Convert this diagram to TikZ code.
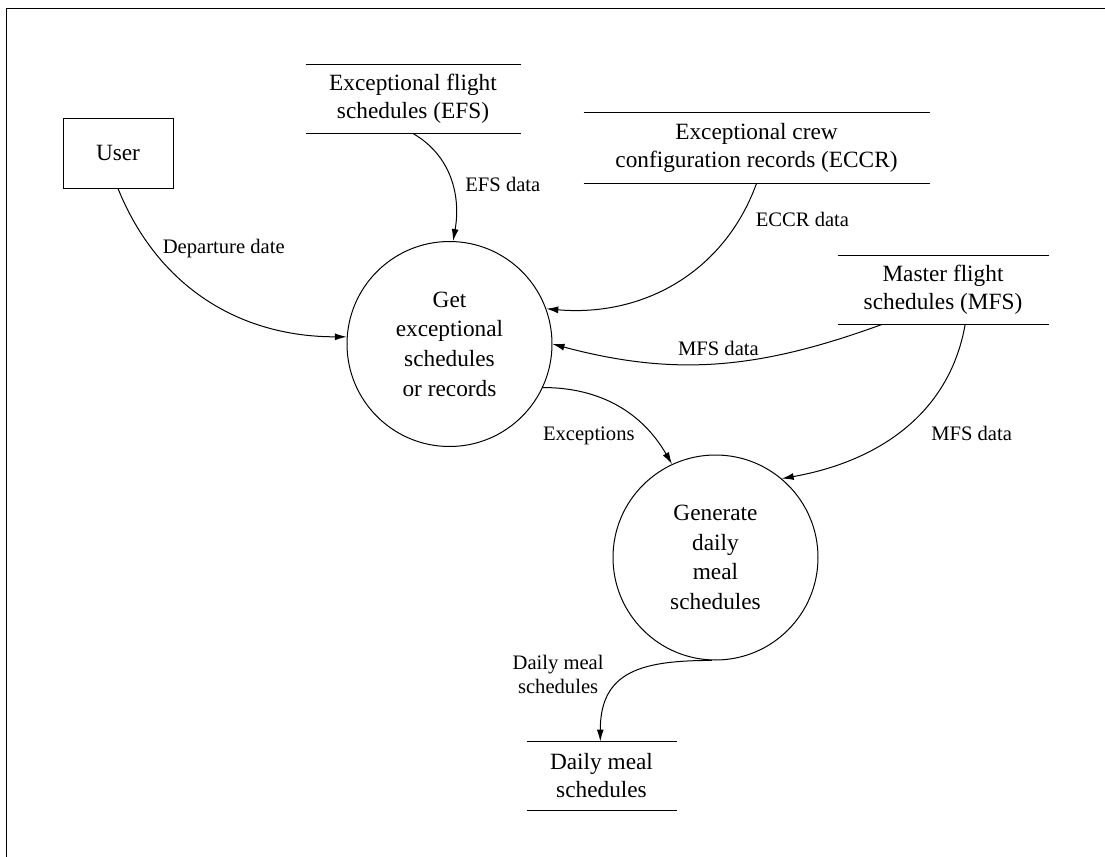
\documentclass[tikz,border=0pt]{standalone}
\usepackage{fontspec}
\setmainfont{Liberation Serif}
\usetikzlibrary{arrows.meta,calc}

\tikzset{
  process/.style={circle, draw, minimum size=102.5pt, inner sep=0pt, align=center,
    font=\fontsize{11.65}{14.8}\selectfont},
  store/.style={minimum height=34pt, inner sep=0pt, align=center,
    font=\fontsize{11.65}{14}\selectfont},
  entity/.style={draw, minimum width=55pt, minimum height=35pt,
    font=\fontsize{11.65}{14}\selectfont},
  flow/.style={-{Latex[length=6pt,width=3.5pt]}},
  lbl/.style={font=\fontsize{10.3}{12}\selectfont, align=center}
}

\begin{document}
\begin{tikzpicture}[x=0.5pt, y=-0.5pt, line width=0.5pt]
    \useasboundingbox (0,0) rectangle (1105,857);
    \draw (6,857) -- (6,8) -- (1105,8);

    \node[entity] (user) at (118,153) {User};
    \node[store, minimum width=107pt] (efs) at (413,99) {Exceptional flight\\schedules (EFS)};
    \node[store, minimum width=172.5pt, minimum height=35pt] (eccr) at (756.5,148) {Exceptional crew\\configuration records (ECCR)};
    \node[store, minimum width=105pt] (mfs) at (943,290) {Master flight\\schedules (MFS)};
    \node[store, minimum width=74.5pt] (daily) at (601.5,776) {Daily meal\\schedules};
    \node[process] (get) at (449.5,344) {Get\\exceptional\\schedules\\or records};
    \node[process] (gen) at (715.5,557.5) {Generate\\daily\\meal\\schedules};

    % data stores: line above and below
    \foreach \s in {efs,eccr,mfs,daily}
        \draw (\s.north west) -- (\s.north east) (\s.south west) -- (\s.south east);

    \draw[flow] (user.south) to[out=-68, in=180] node[lbl, pos=0.35, above right, xshift=-9.5pt, yshift=4.5pt] {Departure date} (get.176);
    \draw[flow] (efs.south) to[out=-30, in=80] node[lbl, pos=0.55, right, xshift=3pt] {EFS data} (get.88);
    \draw[flow] (eccr.south) to[out=-110, in=-5] node[lbl, pos=0.12, right, xshift=3pt, yshift=-3pt] {ECCR data} (get.20);
    \draw[flow] ($(mfs.south west)!0.21!(mfs.south east)$) to[out=200, in=-15] node[lbl, pos=0.5, above] {MFS data} (get.0);
    \draw[flow] ($(mfs.south west)!0.605!(mfs.south east)$) to[out=-100, in=10] node[lbl, pos=0.4, right, xshift=2pt, yshift=-9.5pt] {MFS data} (gen.50);
    \draw[flow] (get.-25) to[out=0, in=120] node[lbl, pos=0.6, below left, xshift=5.5pt, yshift=-2pt] {Exceptions} (gen.115);
    \draw[flow] (gen.-92) to[out=180, in=90, looseness=1.3] node[lbl, pos=0.5, left, xshift=-9.5pt] {Daily meal\\schedules} (daily.92);
\end{tikzpicture}
\end{document}
